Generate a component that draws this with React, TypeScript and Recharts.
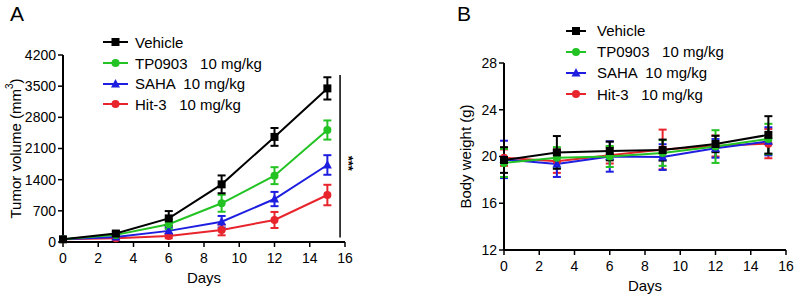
import React from 'react';
import { LineChart, Line, XAxis, YAxis, ErrorBar, Legend, ReferenceLine, Label } from 'recharts';

const days = [0, 3, 6, 9, 12, 15];
const dayTicks = [0, 2, 4, 6, 8, 10, 12, 14, 16];
const volumeTicks = [0, 700, 1400, 2100, 2800, 3500, 4200];
const weightTicks = [12, 16, 20, 24, 28];

const groupNames = ['Vehicle', 'TP0903   10 mg/kg', 'SAHA  10 mg/kg', 'Hit-3   10 mg/kg'];
const groupColors = ['#000000', '#22c322', '#1e1ee0', '#e8242c'];
const groupShapes = ['square', 'circle', 'triangle', 'circle'];

// tumor volume (mm3), mean and SEM
const volVehicle = [60, 190, 530, 1295, 2360, 3450];
const volVehicleErr = [30, 50, 165, 200, 200, 250];
const volTP0903 = [60, 160, 400, 870, 1490, 2515];
const volTP0903Err = [25, 40, 110, 190, 190, 215];
const volSAHA = [60, 110, 250, 455, 965, 1730];
const volSAHAErr = [25, 35, 70, 130, 160, 220];
const volHit3 = [60, 85, 135, 270, 495, 1055];
const volHit3Err = [20, 30, 50, 120, 180, 230];

// body weight (g), mean and SEM
const bwVehicle = [19.7, 20.35, 20.47, 20.55, 21.07, 21.85];
const bwVehicleErr = [1.1, 1.4, 0.8, 0.9, 0.7, 1.6];
const bwTP0903 = [19.45, 19.9, 20.0, 20.3, 20.85, 21.5];
const bwTP0903Err = [1.2, 0.9, 0.9, 1.1, 1.4, 1.3];
const bwSAHA = [19.75, 19.35, 20.0, 19.95, 20.7, 21.3];
const bwSAHAErr = [1.6, 1.1, 1.3, 1.1, 0.8, 1.2];
const bwHit3 = [19.9, 19.6, 20.1, 20.6, 20.9, 21.1];
const bwHit3Err = [0.7, 1.0, 0.7, 1.7, 0.9, 1.25];

const keys = ['vehicle', 'tp0903', 'saha', 'hit3'];

const buildRows = (series: number[][], errors: number[][]) =>
  days.map((day, i) => {
    const row: Record<string, number> = { day };
    keys.forEach((k, s) => {
      row[k] = series[s][i];
      row[k + 'Err'] = errors[s][i];
    });
    return row;
  });

const volumeData = buildRows(
  [volVehicle, volTP0903, volSAHA, volHit3],
  [volVehicleErr, volTP0903Err, volSAHAErr, volHit3Err]
);
const weightData = buildRows(
  [bwVehicle, bwTP0903, bwSAHA, bwHit3],
  [bwVehicleErr, bwTP0903Err, bwSAHAErr, bwHit3Err]
);

const FONT = 'Arial, "Liberation Sans", sans-serif';

const MarkerShape = ({ cx, cy, shape, color, size = 4 }: any) => {
  if (shape === 'square') {
    return <rect x={cx - size} y={cy - size} width={size * 2} height={size * 2} fill={color} />;
  }
  if (shape === 'triangle') {
    return (
      <path
        d={`M${cx},${cy - size - 1} L${cx + size + 0.5},${cy + size - 0.5} L${cx - size - 0.5},${cy + size - 0.5} Z`}
        fill={color}
      />
    );
  }
  return <circle cx={cx} cy={cy} r={size} fill={color} />;
};

const dotFor = (s: number) => (props: any) => {
  const { cx, cy, index } = props;
  return <MarkerShape key={`dot-${s}-${index}`} cx={cx} cy={cy} shape={groupShapes[s]} color={groupColors[s]} />;
};

const LegendBox = ({ lineLen, gap, rowH }: { lineLen: number; gap: number; rowH: number }) => (
  <div style={{ fontFamily: FONT, fontSize: 15, color: '#000' }}>
    {groupNames.map((name, s) => (
      <div key={name} style={{ display: 'flex', alignItems: 'center', height: rowH, whiteSpace: 'pre' }}>
        <svg width={lineLen} height={12} style={{ marginRight: gap }}>
          <line x1={0} y1={6} x2={lineLen} y2={6} stroke={groupColors[s]} strokeWidth={2} />
          <MarkerShape cx={lineLen / 2} cy={6} shape={groupShapes[s]} color={groupColors[s]} />
        </svg>
        <span>{name}</span>
      </div>
    ))}
  </div>
);

const yLabel = (text: React.ReactNode, dx: number) => (props: any) => {
  const vb = props.viewBox;
  const x = vb.x + dx;
  const y = vb.y + vb.height / 2;
  return (
    <text
      x={x}
      y={y}
      transform={`rotate(-90, ${x}, ${y})`}
      textAnchor="middle"
      dominantBaseline="central"
      fontSize={15}
      fontFamily={FONT}
      fill="#000"
    >
      {text}
    </text>
  );
};

const xLabel = (props: any) => {
  const vb = props.viewBox;
  return (
    <text
      x={vb.x + vb.width / 2}
      y={vb.y + 35}
      textAnchor="middle"
      dominantBaseline="central"
      fontSize={15}
      fontFamily={FONT}
      fill="#000"
    >
      Days
    </text>
  );
};

const starsLabel = (props: any) => {
  const vb = props.viewBox;
  const x = vb.x + 8;
  const y = vb.y + vb.height / 2 + 7;
  return (
    <text
      x={x}
      y={y}
      transform={`rotate(90, ${x}, ${y})`}
      textAnchor="middle"
      dominantBaseline="central"
      fontSize={13}
      fontWeight="bold"
      fontFamily={FONT}
      fill="#000"
      stroke="none"
    >
      ***
    </text>
  );
};

// label under a day tick mark
const dayTickLabel = (day: number) => (props: any) => {
  const vb = props.viewBox;
  return (
    <text
      x={vb.x}
      y={vb.y + vb.height + 11}
      textAnchor="middle"
      dominantBaseline="central"
      fontSize={14}
      fontFamily={FONT}
      fill="#000"
      stroke="none"
    >
      {day}
    </text>
  );
};

// the x axis of a line chart snaps its ticks to the data days, so the even-day ticks are drawn as short segments
const dayTickMarks = (yBase: number, tickLen: number) =>
  dayTicks.map((d) => (
    <ReferenceLine
      key={`tick-${d}`}
      segment={[
        { x: d, y: yBase },
        { x: d, y: yBase - tickLen },
      ]}
      stroke="#000"
      strokeWidth={1.5}
      ifOverflow="visible"
      label={dayTickLabel(d)}
    />
  ));

const tickStyle = { fontSize: 14, fontFamily: FONT, fill: '#000' };
const axisLine = { stroke: '#000', strokeWidth: 2 };
const tickLine = { stroke: '#000', strokeWidth: 1.5 };
const drawOrder = [3, 2, 1, 0];

const renderSeries = () =>
  drawOrder.map((s) => (
    <Line
      key={keys[s]}
      dataKey={keys[s]}
      stroke={groupColors[s]}
      strokeWidth={2}
      dot={dotFor(s)}
      activeDot={false}
      isAnimationActive={false}
      type="linear"
    >
      <ErrorBar dataKey={keys[s] + 'Err'} direction="y" width={4} stroke={groupColors[s]} strokeWidth={2} />
    </Line>
  ));

const PanelTitle = ({ text, left }: { text: string; left: number }) => (
  <div style={{ position: 'absolute', left, top: 2, fontFamily: FONT, fontSize: 21, color: '#000' }}>{text}</div>
);

const daysAxis = () => (
  <XAxis
    dataKey="day"
    type="number"
    domain={[0, 16]}
    height={40}
    tick={false}
    tickLine={false}
    axisLine={axisLine}
  >
    <Label content={xLabel} />
  </XAxis>
);

export default function App() {
  return (
    <div style={{ position: 'absolute', left: 0, top: 0, width: 800, height: 301, background: '#fff' }}>
      <PanelTitle text="A" left={10} />
      <PanelTitle text="B" left={457} />
      <div style={{ position: 'absolute', left: 0, top: 0 }}>
        <LineChart width={400} height={301} data={volumeData} margin={{ top: 55, right: 55, bottom: 19, left: 0 }}>
          {daysAxis()}
          <YAxis
            type="number"
            domain={[0, 4200]}
            ticks={volumeTicks}
            width={63}
            tick={tickStyle}
            tickSize={5}
            interval={0}
            axisLine={axisLine}
            tickLine={tickLine}
          >
            <Label
              content={yLabel(
                <>
                  Tumor volume (mm<tspan dy={-6} fontSize={10}>3</tspan>
                  <tspan dy={6}>)</tspan>
                </>,
                15
              )}
            />
          </YAxis>
          {dayTickMarks(0, 112)}
          <ReferenceLine
            segment={[
              { x: 15.72, y: 100 },
              { x: 15.72, y: 3750 },
            ]}
            stroke="#000"
            strokeWidth={1.5}
            ifOverflow="visible"
            label={starsLabel}
          />
          {renderSeries()}
          <Legend
            layout="vertical"
            align="center"
            verticalAlign="middle"
            wrapperStyle={{ left: 103, top: 32, width: 220 }}
            content={() => <LegendBox lineLen={25} gap={7} rowH={20.7} />}
          />
        </LineChart>
      </div>
      <div style={{ position: 'absolute', left: 400, top: 0 }}>
        <LineChart width={400} height={301} data={weightData} margin={{ top: 63, right: 14, bottom: 11, left: 0 }}>
          {daysAxis()}
          <YAxis
            type="number"
            domain={[12, 28]}
            ticks={weightTicks}
            width={104}
            tick={tickStyle}
            tickSize={5}
            interval={0}
            axisLine={axisLine}
            tickLine={tickLine}
          >
            <Label content={yLabel('Body weight (g)', 65)} />
          </YAxis>
          {dayTickMarks(12, 0.43)}
          {renderSeries()}
          <Legend
            layout="vertical"
            align="center"
            verticalAlign="middle"
            wrapperStyle={{ left: 166, top: 20, width: 220 }}
            content={() => <LegendBox lineLen={20} gap={11} rowH={21.2} />}
          />
        </LineChart>
      </div>
    </div>
  );
}
